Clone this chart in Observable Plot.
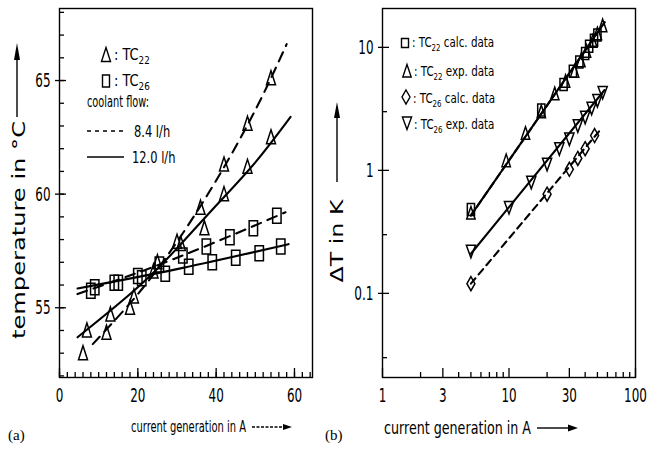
<!DOCTYPE html>
<html><head><meta charset="utf-8">
<script src="https://cdn.jsdelivr.net/npm/d3@7"></script>
<script src="https://cdn.jsdelivr.net/npm/@observablehq/plot@0.6"></script>
<style>
body{margin:0;background:#fff;}
#wrap{position:relative;width:658px;height:455px;overflow:hidden;background:#fff;}
#wrap svg{position:absolute;top:0;}
</style></head><body><div id="wrap"></div>
<script>
// ---------- Panel (a): temperature vs current ----------
const aTC22_84_I  = [6, 12, 18, 24, 30, 36, 42, 48, 54];
const aTC22_84_T  = [53.0, 53.9, 55.0, 56.6, 57.9, 59.4, 61.3, 63.1, 65.1];
const aTC22_120_I = [7, 13, 19, 25, 31, 37, 42, 48, 54];
const aTC22_120_T = [54.0, 54.7, 55.5, 57.0, 57.8, 58.5, 60.0, 61.2, 62.5];
const aTC26_84_I  = [8, 14, 20, 25.5, 31.5, 37.5, 43.5, 49.5, 55.5];
const aTC26_84_T  = [55.75, 56.1, 56.4, 56.9, 57.3, 57.7, 58.1, 58.5, 59.05];
const aTC26_120_I = [9, 15, 21, 27, 33, 39, 45, 51, 56.5];
const aTC26_120_T = [55.9, 56.1, 56.3, 56.5, 56.8, 57.0, 57.2, 57.4, 57.7];
// fitted curves
const aFit22_84_I  = [8.5, 20, 30, 40, 50, 58];
const aFit22_84_T  = [53.4, 55.6, 57.9, 60.6, 63.7, 66.6];
const aFit22_120_I = [4.6, 20, 31, 40, 50, 59];
const aFit22_120_T = [53.7, 55.9, 57.8, 59.5, 61.4, 63.4];
const aFit26_84_I  = [4.6, 30, 57.7];
const aFit26_84_T  = [55.6, 57.2, 59.2];
const aFit26_120_I = [4.6, 30, 58.5];
const aFit26_120_T = [55.85, 56.7, 57.8];
const aXMajor = [0, 20, 40, 60];
const aXMinor = d3.range(0, 65, 2);
const aYMajor = [55, 60, 65];
const aYMinor = d3.range(52, 69, 1);

// ---------- Panel (b): delta T vs current (log-log) ----------
const b22calc_I  = [5, 18, 27, 32, 36, 40, 43, 47, 50];
const b22calc_dT = [0.48, 3.1, 5.0, 6.4, 7.6, 8.9, 10.2, 11.4, 12.6];
const b22exp_I   = [5, 9.5, 13.5, 18, 23, 28, 33, 37, 41, 46, 50, 55];
const b22exp_dT  = [0.45, 1.2, 2.0, 3.0, 4.2, 5.3, 6.4, 7.8, 9.3, 11.2, 12.9, 15.0];
const b26calc_I  = [5, 20, 30, 35, 40, 47.5];
const b26calc_dT = [0.12, 0.64, 1.02, 1.25, 1.5, 1.92];
const b26exp_I   = [5, 10, 15, 20, 25, 30, 35, 40, 45, 50, 55];
const b26exp_dT  = [0.22, 0.5, 0.8, 1.12, 1.5, 1.8, 2.3, 2.7, 3.2, 3.7, 4.3];
const bFit22_I = [5, 57],  bFit22_dT = [0.43, 16];
const bFit26e_I = [5, 57], bFit26e_dT = [0.21, 4.5];
const bFit26c_I = [5, 52], bFit26c_dT = [0.12, 2.1];
const bXMajor = [1, 3, 10, 30, 100];
const bXMinor = [2, 4, 5, 6, 7, 8, 9, 20, 40, 50, 60, 70, 80, 90];
const bYMajor = [0.1, 1, 10];
const bYMinor = [0.03, 0.3, 3];

const NARROW = "'Liberation Sans Narrow','Arial Narrow','DejaVu Sans Condensed',sans-serif";
const rows = (X, Y) => X.map((x, i) => ({x, y: Y[i]}));

// custom tall symbols
const sym = (pts) => ({draw(ctx){ ctx.moveTo(pts[0][0], pts[0][1]); for (const p of pts.slice(1)) ctx.lineTo(p[0], p[1]); ctx.closePath(); }});
const rectA = sym([[-4.2,-7.5],[4.2,-7.5],[4.2,7.5],[-4.2,7.5]]);
const triA  = sym([[0,-7.5],[4.5,6.5],[-4.5,6.5]]);
const rectB = sym([[-3.6,-6],[3.6,-6],[3.6,6],[-3.6,6]]);
const triB  = sym([[0,-6.5],[4.2,6],[-4.2,6]]);
const diaB  = sym([[0,-7],[4,0],[0,7],[-4,0]]);
const triD  = sym([[-4.6,-6],[4.6,-6],[0,6.5]]);

const dotOpts = (symbol) => ({x:"x", y:"y", symbol, r: 5, stroke:"#000", strokeWidth:1.5, fill:"none"});
const lineOpts = (dash, curve) => ({x:"x", y:"y", stroke:"#000", strokeWidth:2.1, strokeDasharray: dash, curve});

const H = 455, MT = 8, MB = 78, FH = H - MT - MB;
// inward tick helpers (tick length measured from the frame edge)
const inX = (ticks, len, sw = 1.3) => Plot.tickX(ticks, {x: d => d, insetTop: FH - len, stroke: "#000", strokeWidth: sw});
const inY = (ticks, len, fw, sw = 1.3) => Plot.tickY(ticks, {y: d => d, insetRight: fw - len, stroke: "#000", strokeWidth: sw});

const AW = 320, AML = 59, AMR = 8, AFW = AW - AML - AMR;
const pa = Plot.plot({
  width: AW, height: H,
  marginLeft: AML, marginRight: AMR, marginTop: MT, marginBottom: MB,
  x: {domain: [0, 64.6]},
  y: {domain: [51.93, 68.17]},
  style: {fontFamily: NARROW, fontSize: "20px", color: "#000", background: "transparent", overflow: "visible"},
  marks: [
    inX(aXMinor, 5), inX(aXMajor, 9),
    Plot.axisX({ticks: aXMajor, tickSize: 0, tickPadding: 10, label: null, tickFormat: d => String(d)}),
    inY(aYMinor, 5, AFW), inY(aYMajor, 7, AFW),
    Plot.axisY({ticks: aYMajor, tickSize: 4, fill: "none", label: null, strokeWidth: 1.3}),
    Plot.axisY({ticks: aYMajor, tickSize: 0, tickPadding: 9, label: null, tickFormat: d => String(d)}),
    Plot.line(rows(aFit22_84_I, aFit22_84_T), lineOpts("10,7", "natural")),
    Plot.line(rows(aFit22_120_I, aFit22_120_T), lineOpts(null, "natural")),
    Plot.line(rows(aFit26_84_I, aFit26_84_T), lineOpts("10,7", "natural")),
    Plot.line(rows(aFit26_120_I, aFit26_120_T), lineOpts(null, "natural")),
    Plot.dot(rows(aTC22_84_I, aTC22_84_T), dotOpts(triA)),
    Plot.dot(rows(aTC22_120_I, aTC22_120_T), dotOpts(triA)),
    Plot.dot(rows(aTC26_84_I, aTC26_84_T), dotOpts(rectA)),
    Plot.dot(rows(aTC26_120_I, aTC26_120_T), dotOpts(rectA)),
    Plot.frame({stroke: "#000", strokeWidth: 1.4})
  ]
});

const BW = 338, BML = 62, BMR = 23, BFW = BW - BML - BMR;
const pb = Plot.plot({
  width: BW, height: H,
  marginLeft: BML, marginRight: BMR, marginTop: MT, marginBottom: MB,
  x: {type: "log", domain: [1, 100]},
  y: {type: "log", domain: [0.0207, 20.7]},
  style: {fontFamily: NARROW, fontSize: "20px", color: "#000", background: "transparent", overflow: "visible"},
  marks: [
    inX(bXMinor, 5), inX(bXMajor, 9),
    Plot.axisX({ticks: bXMajor, tickSize: 0, tickPadding: 10, label: null, tickFormat: d => String(d)}),
    inY(bYMinor, 5, BFW), inY(bYMajor, 7, BFW),
    Plot.axisY({ticks: bYMajor, tickSize: 4, fill: "none", label: null, strokeWidth: 1.3}),
    Plot.axisY({ticks: bYMajor, tickSize: 0, tickPadding: 9, label: null, tickFormat: d => String(d)}),
    Plot.line(rows(bFit22_I, bFit22_dT), lineOpts(null)),
    Plot.line(rows(bFit22_I, bFit22_dT), lineOpts("7,4")),
    Plot.line(rows(bFit26e_I, bFit26e_dT), lineOpts(null)),
    Plot.line(rows(bFit26c_I, bFit26c_dT), lineOpts("7,5")),
    Plot.dot(rows(b22calc_I, b22calc_dT), dotOpts(rectB)),
    Plot.dot(rows(b22exp_I, b22exp_dT), dotOpts(triB)),
    Plot.dot(rows(b26calc_I, b26calc_dT), dotOpts(diaB)),
    Plot.dot(rows(b26exp_I, b26exp_dT), dotOpts(triD)),
    Plot.frame({stroke: "#000", strokeWidth: 1.4})
  ]
});

const wrap = document.getElementById("wrap");
pa.style.left = "0px"; pb.style.left = "320px";
wrap.appendChild(pa); wrap.appendChild(pb);

// condense tick labels like the original narrow font
for (const svg of [pa, pb]) {
  d3.select(svg).selectAll('g[aria-label$="tick label"] text').each(function(){
    let L = 0; for (const c of this.textContent) L += (c === "." ? 4 : 7.6);
    this.setAttribute("textLength", L);
    this.setAttribute("lengthAdjust", "spacingAndGlyphs");
  });
}

// ---------- overlay: titles, arrows, legends ----------
const ov = d3.select(wrap).append("svg").attr("width", 658).attr("height", 455).style("left", "0px").style("pointer-events", "none");
// parts: strings (normal) or {sub: "22"} (subscript)
function txt(x, y, parts, o = {}) {
  const size = o.size || 16;
  const t = ov.append("text")
    .attr("font-family", o.family || NARROW).attr("font-size", size).attr("fill", "#000");
  if (o.rotate) t.attr("transform", `translate(${x},${y}) rotate(-90)`).attr("text-anchor", "middle");
  else t.attr("transform", `translate(${x},${y}) scale(${o.sx || 1},1)`);
  if (o.anchor) t.attr("text-anchor", o.anchor);
  if (o.len) t.attr("textLength", o.len).attr("lengthAdjust", "spacingAndGlyphs");
  const sd = Math.round(size * 0.28);
  let shifted = false;
  for (const p of parts) {
    if (typeof p === "string") {
      const s = t.append("tspan").text(p);
      if (shifted) { s.attr("dy", -sd); shifted = false; }
    } else {
      t.append("tspan").attr("font-size", size * 0.68).attr("dy", sd).text(p.sub);
      shifted = true;
    }
  }
  return t;
}
function arrow(x1, y1, x2, y2, head = 9, hw = 3.2, dash = null) {
  const dx = x2 - x1, dy = y2 - y1, L = Math.hypot(dx, dy), ux = dx / L, uy = dy / L;
  const bx = x2 - ux * head, by = y2 - uy * head;
  ov.append("line").attr("x1", x1).attr("y1", y1).attr("x2", bx).attr("y2", by)
    .attr("stroke", "#000").attr("stroke-width", 1.4).attr("stroke-dasharray", dash);
  ov.append("path").attr("d", `M${x2},${y2}L${bx - uy * hw},${by + ux * hw}L${bx + uy * hw},${by - ux * hw}Z`).attr("fill", "#000");
}
function symAt(s, x, y) {
  const p = d3.path(); s.draw(p);
  ov.append("path").attr("d", p.toString()).attr("transform", `translate(${x},${y})`)
    .attr("fill", "none").attr("stroke", "#000").attr("stroke-width", 1.4);
}

// y titles
txt(25, 230, ["temperature in °C"], {family: "'DejaVu Sans',sans-serif", size: 18, rotate: true, len: 218});
arrow(17, 117, 17, 43, 17, 3);
txt(343, 241, ["\u0394T in K"], {family: "'DejaVu Sans',sans-serif", size: 17, rotate: true, len: 83});
arrow(337, 182, 337, 102, 16, 3);

// x titles
txt(131, 432, ["current generation in A"], {size: 16, len: 115});
arrow(252, 427, 292, 427, 9, 3, "3,1.5");
txt(384, 434, ["current generation in A"], {size: 18, len: 147});
arrow(537, 428, 578, 428, 10, 3.5);
txt(8, 440, ["(a)"], {family: "'Liberation Serif',serif", size: 15});
txt(325, 440, ["(b)"], {family: "'Liberation Serif',serif", size: 15});

// legend (a)
symAt(triA, 106, 55);
txt(114, 60, [": TC", {sub: "22"}], {size: 16, sx: 0.9});
symAt(sym([[-3.5,-6],[3.5,-6],[3.5,6],[-3.5,6]]), 106, 81);
txt(114, 86, [": TC", {sub: "26"}], {size: 16, sx: 0.9});
txt(87, 107, ["coolant flow:"], {size: 15, len: 62});
ov.append("line").attr("x1", 87).attr("x2", 124).attr("y1", 131).attr("y2", 131).attr("stroke", "#000").attr("stroke-width", 1.5).attr("stroke-dasharray", "4,4");
txt(134, 137, ["8.4 l/h"], {size: 15, sx: 0.85});
ov.append("line").attr("x1", 87).attr("x2", 124).attr("y1", 157).attr("y2", 157).attr("stroke", "#000").attr("stroke-width", 1.5);
txt(132, 163, ["12.0 l/h"], {size: 15, sx: 0.85});

// legend (b)
symAt(sym([[-3.5,-4.5],[3.5,-4.5],[3.5,4.5],[-3.5,4.5]]), 405, 43);
txt(412, 47, [": TC", {sub: "22"}, " calc. data"], {size: 14, sx: 0.82});
symAt(triB, 407, 71);
txt(414, 76, [": TC", {sub: "22"}, " exp. data"], {size: 14, sx: 0.82});
symAt(diaB, 406, 97);
txt(413, 103, [": TC", {sub: "26"}, " calc. data"], {size: 14, sx: 0.82});
symAt(triD, 407, 123);
txt(414, 129, [": TC", {sub: "26"}, " exp. data"], {size: 14, sx: 0.82});
</script>
</body></html>
